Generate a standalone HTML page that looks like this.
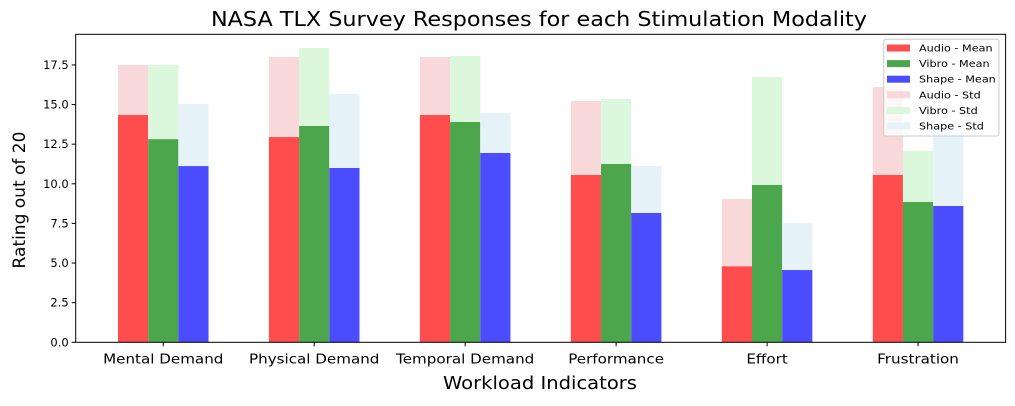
<!DOCTYPE html>
<html><head><meta charset="utf-8"><style>
body{margin:0;background:#fff;}
svg text{font-family:"DejaVu Sans","Liberation Sans",sans-serif;fill:#000;}
</style></head><body>
<svg id="chart" width="1015" height="401" xmlns="http://www.w3.org/2000/svg">
<text x="539" y="26" font-size="20" text-anchor="middle" textLength="656" lengthAdjust="spacingAndGlyphs">NASA TLX Survey Responses for each Stimulation Modality</text>
<text x="540" y="389" font-size="17.5" text-anchor="middle" textLength="194" lengthAdjust="spacingAndGlyphs">Workload Indicators</text>
<text transform="translate(25,200) rotate(-90)" font-size="17" text-anchor="middle">Rating out of 20</text>
<g id="bars"></g>
<g id="axes"></g>
<g id="legend"></g>
</svg>
<script>
const categories=["Mental Demand","Physical Demand","Temporal Demand","Performance","Effort","Frustration"];
const audioMean=[14.34,12.95,14.34,10.56,4.8,10.56];
const vibroMean=[12.82,13.65,13.9,11.25,9.93,8.86];
const shapeMean=[11.12,11.0,11.95,8.16,4.56,8.6];
const audioStd=[3.16,5.05,3.66,4.66,4.24,5.54];
const vibroStd=[4.68,4.92,4.16,4.1,6.81,3.22];
const shapeStd=[3.91,4.67,2.52,2.96,2.97,5.0];
const yTicks=[0,2.5,5,7.5,10,12.5,15,17.5];
const L=75.7,R=1005.6,T=34.3,B=342.3;
const x=v=>L+(v+0.58)/6.16*(R-L);
const y=v=>B-v*15.85;
const NS="http://www.w3.org/2000/svg";
function mk(tag,attrs,parent,text){const e=document.createElementNS(NS,tag);for(const k in attrs)e.setAttribute(k,attrs[k]);if(text!==undefined)e.textContent=text;parent.appendChild(e);return e;}
function stretch(t,f){const w=t.getComputedTextLength();t.setAttribute('textLength',(w*f).toFixed(1));t.setAttribute('lengthAdjust','spacingAndGlyphs');}
const bars=document.getElementById('bars'),axes=document.getElementById('axes'),leg=document.getElementById('legend');
const series=[
 {name:"audio",m:audioMean,s:audioStd,off:-0.2,c:"#ff4c4c",sc:"#f8d8d8"},
 {name:"vibro",m:vibroMean,s:vibroStd,off:0,c:"#4ca64c",sc:"#dbf7dc"},
 {name:"shape",m:shapeMean,s:shapeStd,off:0.2,c:"#4c4cff",sc:"#e5f2f8"}];
const bw=x(0.2)-x(0);
series.forEach(se=>{categories.forEach((c,i)=>{
 const cx=x(i+se.off);
 const r1=mk('rect',{x:cx-bw/2,y:y(se.m[i]),width:bw,height:y(0)-y(se.m[i]),fill:se.c},bars);
 
 
 const top=se.m[i]+se.s[i];
 const r2=mk('rect',{x:cx-bw/2,y:y(top),width:bw,height:y(se.m[i])-y(top),fill:se.sc},bars);
 
 
});});
mk('rect',{x:L,y:T,width:R-L,height:B-T,fill:'none',stroke:'#000','stroke-width':1},axes);
yTicks.forEach(t=>{
 mk('line',{x1:L-4,x2:L,y1:y(t),y2:y(t),stroke:'#000'},axes);
 const tx=mk('text',{x:L-7,y:y(t)+4,'font-size':11.5,'text-anchor':'end'},axes,t.toFixed(1));
 
 
});
categories.forEach((c,i)=>{
 mk('line',{x1:x(i),x2:x(i),y1:B,y2:B+4,stroke:'#000'},axes);
 const tx=mk('text',{x:x(i),y:B+21,'font-size':13.5,'text-anchor':'middle'},axes,c);
 
 
 stretch(tx,1.12);
});
const lb=mk('rect',{x:883.7,y:39.3,width:115.3,height:96.7,fill:'#fff','fill-opacity':0.8,stroke:'#ccc',rx:2},leg);


const labels=["Audio - Mean","Vibro - Mean","Shape - Mean","Audio - Std","Vibro - Std","Shape - Std"];
const cols=["#ff4c4c","#4ca64c","#4c4cff","#f8d8d8","#dbf7dc","#e5f2f8"];
labels.forEach((l,k)=>{
 const cy=48+k*15.6;
 mk('rect',{x:887,y:cy-3.5,width:23,height:7,fill:cols[k]},leg);
 const tx=mk('text',{x:919,y:cy+3.5,'font-size':9.5},leg,l);
 
 
 stretch(tx,1.18);
});
</script>
</body></html>
